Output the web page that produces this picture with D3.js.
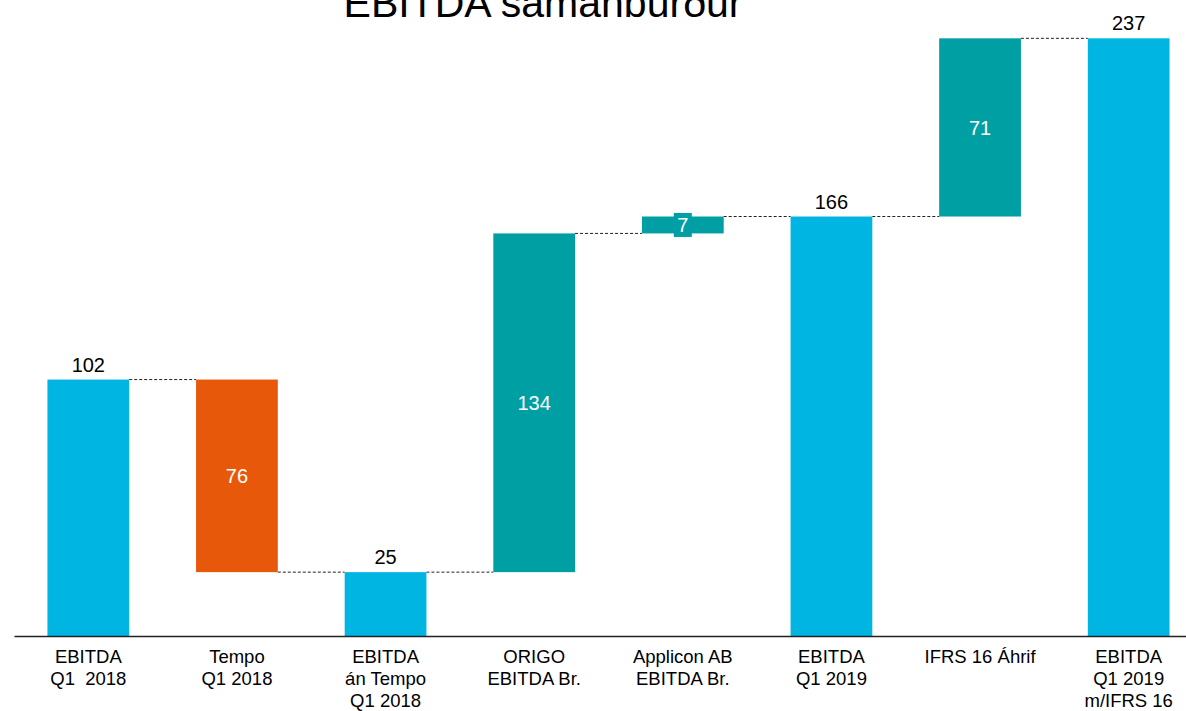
<!DOCTYPE html>
<html>
<head>
<meta charset="utf-8">
<script src="https://cdn.jsdelivr.net/npm/d3@7"></script>
<style>
  body { margin: 0; background: #fff; }
  svg { display: block; font-family: "Liberation Sans", Arial, sans-serif; }
</style>
</head>
<body>
<svg id="chart" width="1186" height="711"></svg>
<script>
// waterfall data (one decimal, labels shown rounded)
var categories = ["EBITDA\nQ1  2018", "Tempo\nQ1 2018", "EBITDA\nán Tempo\nQ1 2018",
                  "ORIGO\nEBITDA Br.", "Applicon AB\nEBITDA Br.", "EBITDA\nQ1 2019",
                  "IFRS 16 Áhrif", "EBITDA\nQ1 2019\nm/IFRS 16"];
var values = [101.6, -76.3, 25.3, 134.2, 6.7, 166.2, 70.6, 236.8];
var isTotal = [true, false, true, false, false, true, false, true];

var colTotal = "#00b5e2",
    colUp = "#009fa4",
    colDown = "#e8580a";

var svg = d3.select("#chart"),
    baseY = 636;

var x = d3.scaleBand()
    .domain(categories)
    .range([14, 1203])
    .paddingInner(0.45)
    .paddingOuter(0.225);

var y = d3.scaleLinear()
    .domain([0, 250])
    .range([baseY, 5]);

// build start/end for each bar
var run = 0;
var bars = categories.map(function(c, i) {
  var b = {cat: c, v: values[i], total: isTotal[i]};
  if (b.total) { b.y0 = 0; b.y1 = b.v; run = b.v; }
  else { b.y0 = run; b.y1 = run + b.v; run = b.y1; }
  b.level = run;
  return b;
});

var g = svg.append("g");

// connectors
g.selectAll(".conn")
  .data(bars.slice(0, -1))
  .enter().append("line")
    .attr("x1", function(d) { return x(d.cat) + x.bandwidth(); })
    .attr("x2", function(d, i) { return x(bars[i + 1].cat); })
    .attr("y1", function(d) { return y(d.level); })
    .attr("y2", function(d) { return y(d.level); })
    .attr("stroke", "#222")
    .attr("stroke-width", 1)
    .attr("stroke-dasharray", "3,2");

g.selectAll(".bar")
  .data(bars)
  .enter().append("rect")
    .attr("x", function(d) { return x(d.cat); })
    .attr("width", x.bandwidth())
    .attr("y", function(d) { return y(Math.max(d.y0, d.y1)); })
    .attr("height", function(d) { return Math.abs(y(d.y0) - y(d.y1)); })
    .attr("fill", function(d) { return d.total ? colTotal : (d.v < 0 ? colDown : colUp); });

// totals: label above
g.selectAll(".lblTop")
  .data(bars.filter(function(d) { return d.total; }))
  .enter().append("text")
    .attr("x", function(d) { return x(d.cat) + x.bandwidth() / 2; })
    .attr("y", function(d) { return y(d.y1) - 8; })
    .attr("text-anchor", "middle")
    .style("font-size", "20px")
    .attr("fill", "#000")
    .text(function(d) { return Math.round(d.v); });

// changes: label inside
var inner = g.selectAll(".lblIn")
  .data(bars.filter(function(d) { return !d.total; }))
  .enter().append("g")
    .attr("transform", function(d) {
      return "translate(" + (x(d.cat) + x.bandwidth() / 2) + "," + y((d.y0 + d.y1) / 2) + ")";
    });

inner.filter(function(d) { return Math.abs(y(d.y0) - y(d.y1)) < 24; })
  .append("rect")
    .attr("x", -9).attr("y", -12)
    .attr("width", 18).attr("height", 24)
    .attr("fill", colUp);

inner.append("text")
    .attr("text-anchor", "middle")
    .attr("dy", "0.36em")
    .style("font-size", "20px")
    .attr("fill", "#fff")
    .text(function(d) { return Math.round(Math.abs(d.v)); });

// x axis
var ax = svg.append("g")
    .attr("transform", "translate(0," + baseY + ")")
    .call(d3.axisBottom(x).tickSize(0).tickFormat(""));
ax.select(".domain").attr("stroke", "#222").attr("stroke-width", 1.6);

ax.selectAll(".tick").each(function(d) {
  var t = d3.select(this).append("text")
      .attr("text-anchor", "middle")
      .attr("fill", "#000")
      .style("font-size", "18.5px")
      .style("white-space", "pre");
  d.split("\n").forEach(function(line, i) {
    t.append("tspan").attr("x", 0).attr("y", 27 + i * 22).text(line);
  });
});

// title (partly cut at the top, as in the original)
svg.append("text")
    .attr("x", 543)
    .attr("y", 17)
    .attr("text-anchor", "middle")
    .style("font-size", "41px")
    .attr("fill", "#000")
    .text("EBITDA samanburður");
</script>
</body>
</html>
